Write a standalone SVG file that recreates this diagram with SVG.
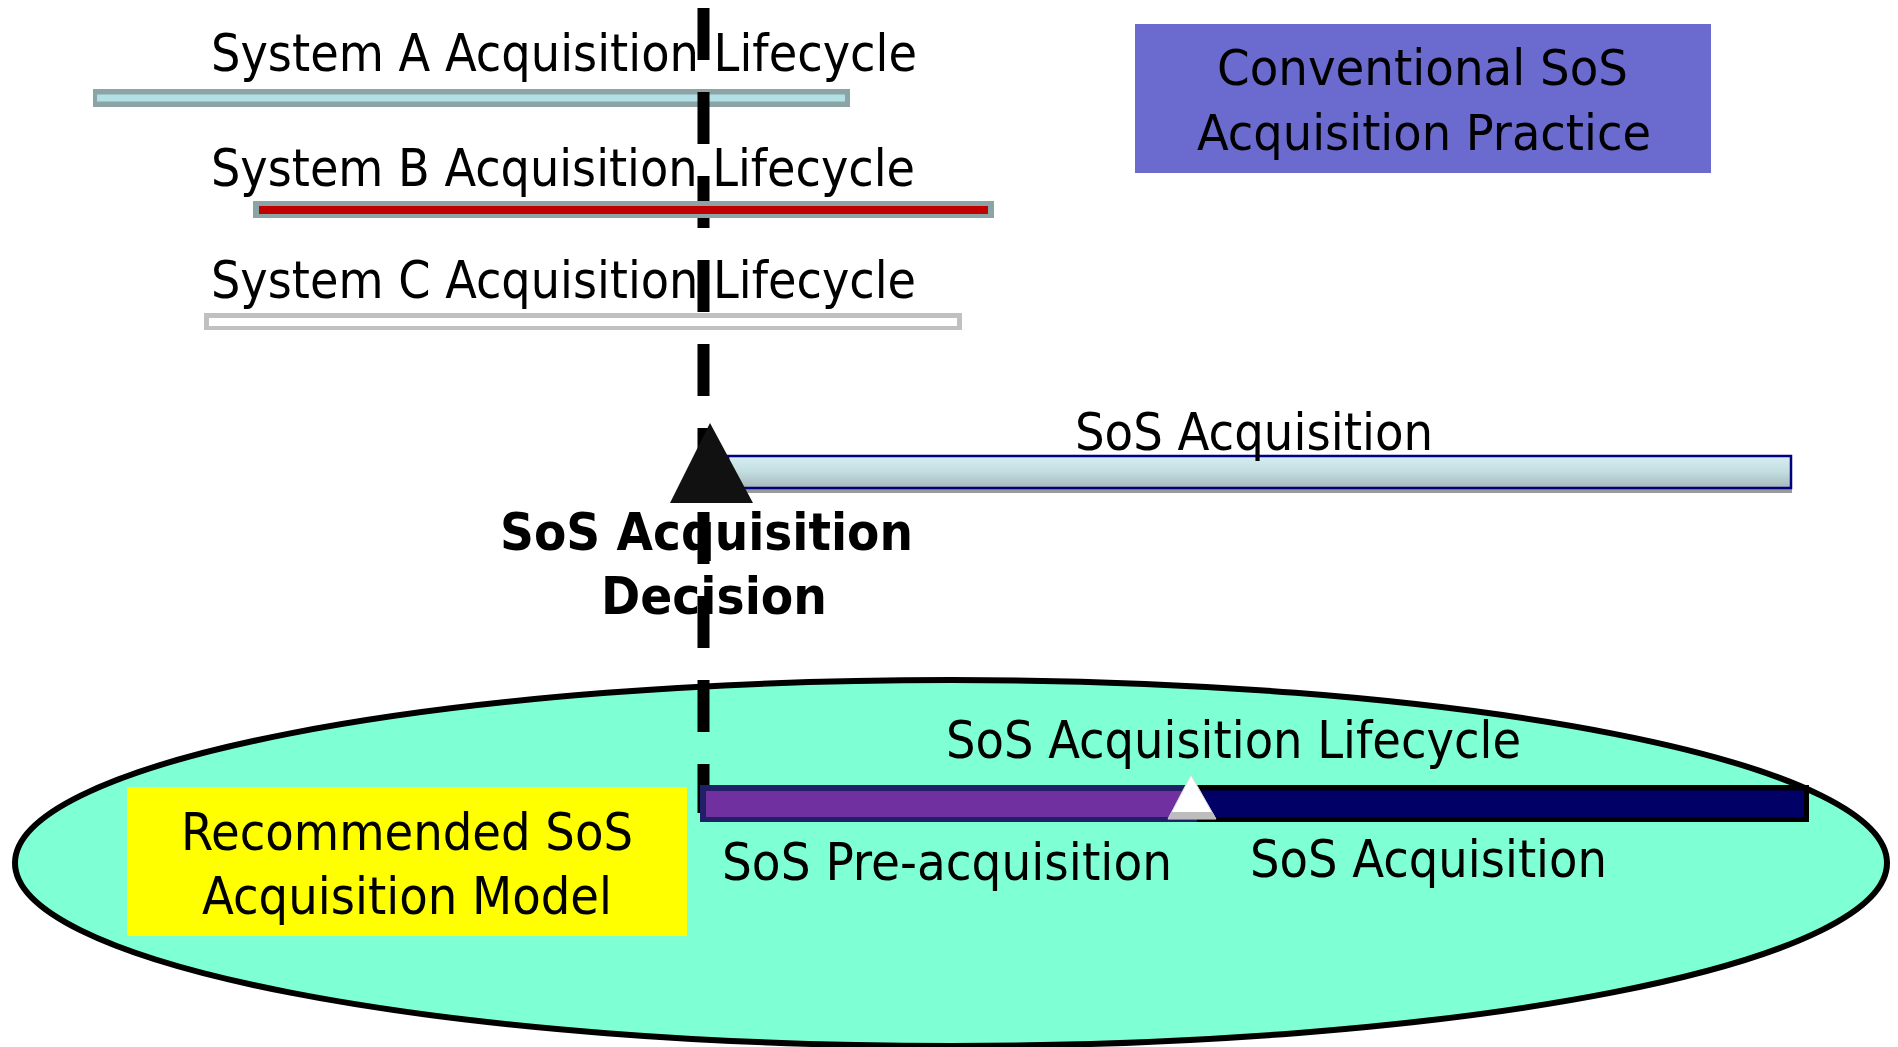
<svg xmlns="http://www.w3.org/2000/svg" width="1898" height="1047" viewBox="0 0 1898 1047">
<style>
text{font-family:"DejaVu Sans Condensed","DejaVu Sans",sans-serif;font-stretch:condensed;fill:#000;}
.t{font-size:52px;}
.b{font-size:51px;font-weight:bold;}
.s50{font-size:50px;}
</style>
<defs>
<linearGradient id="gTop" x1="0" y1="0" x2="0" y2="1">
<stop offset="0" stop-color="#D6EEF1"/>
<stop offset="0.5" stop-color="#C2DDE0"/>
<stop offset="1" stop-color="#A5B8B9"/>
</linearGradient>
</defs>
<rect width="1898" height="1047" fill="#ffffff"/>

<g id="recommended-ellipse">
<ellipse cx="951" cy="863" rx="936" ry="183" fill="#7FFFD4" stroke="#000" stroke-width="6"/>
</g>

<g id="recommended-label">
<rect x="127" y="787" width="560" height="149" fill="#FFFF00"/>
<text class="t" x="181" y="850" textLength="452" lengthAdjust="spacingAndGlyphs">Recommended SoS</text>
<text class="t" x="202" y="914" textLength="410" lengthAdjust="spacingAndGlyphs">Acquisition Model</text>
</g>

<g id="conventional-label">
<rect x="1135" y="24" width="576" height="149" fill="#6B6BCF"/>
<text class="s50" x="1217" y="85" textLength="411" lengthAdjust="spacingAndGlyphs">Conventional SoS</text>
<text class="s50" x="1197" y="150" textLength="454" lengthAdjust="spacingAndGlyphs">Acquisition Practice</text>
</g>

<g id="system-a">
<rect x="93" y="89" width="757" height="18" fill="#8BA4A6"/>
<rect x="97" y="94.5" width="748" height="7" fill="#B3E0E4"/>
<text class="t" x="211" y="71" textLength="706" lengthAdjust="spacingAndGlyphs">System A Acquisition Lifecycle</text>
</g>

<g id="connectors">
<line x1="703.5" y1="8" x2="703.5" y2="813" stroke="#000" stroke-width="12" stroke-dasharray="52 32"/>
</g>

<g id="system-b">
<rect x="253" y="201" width="741" height="17" fill="#8BA4A6"/>
<rect x="259" y="206" width="729" height="8" fill="#C00000"/>
<text class="t" x="211" y="186" textLength="704" lengthAdjust="spacingAndGlyphs">System B Acquisition Lifecycle</text>
</g>

<g id="system-c">
<rect x="204" y="313" width="758" height="17" fill="#C0C0C0"/>
<rect x="209" y="318" width="748" height="8" fill="#ffffff"/>
<text class="t" x="211" y="298" textLength="705" lengthAdjust="spacingAndGlyphs">System C Acquisition Lifecycle</text>
</g>

<g id="sos-acquisition-bar">
<rect x="730" y="489" width="1062" height="4" fill="#9A9A9A"/>
<rect x="728" y="456" width="1063" height="32" fill="url(#gTop)" stroke="#000080" stroke-width="2.5"/>
<text class="t" x="1075" y="450" textLength="358" lengthAdjust="spacingAndGlyphs">SoS Acquisition</text>
</g>

<g id="decision">
<polygon points="710,423 670,503 753,503" fill="#111111"/>
<text class="b" x="500" y="550" textLength="413" lengthAdjust="spacingAndGlyphs">SoS Acquisition</text>
<text class="b" x="601" y="614" textLength="226" lengthAdjust="spacingAndGlyphs">Decision</text>
</g>

<g id="lifecycle">
<rect x="700" y="785" width="498" height="37" fill="#202066"/>
<rect x="706" y="791" width="492" height="26" fill="#7030A0"/>
<rect x="1197" y="785" width="612" height="37" fill="#000000"/>
<rect x="1197" y="790.5" width="607" height="26.5" fill="#000066"/>
<polygon points="1191,775 1168,819 1216,819" fill="#ffffff" stroke="#D8D8D8" stroke-width="1"/>
<polygon points="1171.6,812 1212.4,812 1216,819 1168,819" fill="#BDBDBD"/>
<text class="t" x="946" y="758" textLength="575" lengthAdjust="spacingAndGlyphs">SoS Acquisition Lifecycle</text>
<text class="t" x="722" y="880" textLength="450" lengthAdjust="spacingAndGlyphs">SoS Pre-acquisition</text>
<text class="t" x="1250" y="877" textLength="357" lengthAdjust="spacingAndGlyphs">SoS Acquisition</text>
</g>
</svg>
